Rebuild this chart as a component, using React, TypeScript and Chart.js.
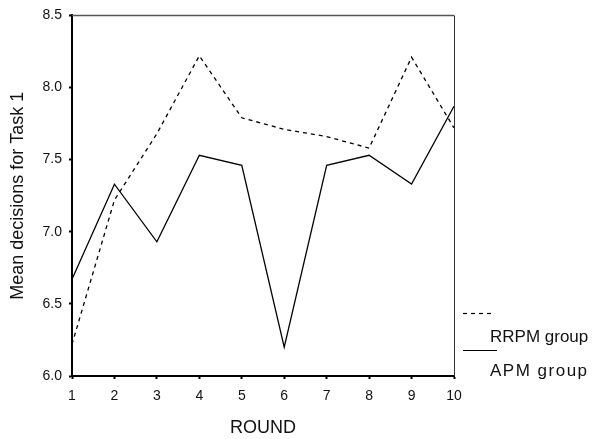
import React, { useEffect, useRef } from "react";
import { Chart, registerables } from "chart.js";

Chart.register(...registerables);

const rounds = ["1", "2", "3", "4", "5", "6", "7", "8", "9", "10"];
const rrpmGroup = [6.22, 7.22, 7.68, 8.22, 7.79, 7.71, 7.66, 7.58, 8.21, 7.72];
const apmGroup = [6.67, 7.33, 6.93, 7.53, 7.46, 6.2, 7.46, 7.53, 7.33, 7.87];
const yTicks = [6.0, 6.5, 7.0, 7.5, 8.0, 8.5];
const legendLabels = ["RRPM group", "APM group"];

const FONT = "'Liberation Sans', Arial, sans-serif";

const framePlugin = {
  id: "frameAndLegend",
  afterDraw(chart: any) {
    const { ctx, chartArea } = chart;
    const { left, right, top, bottom } = chartArea;
    ctx.save();
    // top border
    ctx.strokeStyle = "#555";
    ctx.lineWidth = 1.5;
    ctx.beginPath();
    ctx.moveTo(left, top);
    ctx.lineTo(right, top);
    ctx.stroke();
    // right border
    ctx.strokeStyle = "#333";
    ctx.lineWidth = 1;
    ctx.beginPath();
    ctx.moveTo(right + 0.5, top);
    ctx.lineTo(right + 0.5, bottom);
    ctx.stroke();
    // legend
    const lx0 = right + 9;
    const lx1 = right + 41;
    ctx.strokeStyle = "#000";
    ctx.lineWidth = 1.2;
    ctx.setLineDash([4, 4]);
    ctx.beginPath();
    ctx.moveTo(lx0, 313.5);
    ctx.lineTo(lx1, 313.5);
    ctx.stroke();
    ctx.setLineDash([]);
    ctx.beginPath();
    ctx.moveTo(lx0, 350.5);
    ctx.lineTo(lx1 + 2, 350.5);
    ctx.stroke();
    ctx.fillStyle = "#111";
    ctx.font = `17px ${FONT}`;
    ctx.textBaseline = "middle";
    ctx.textAlign = "left";
    ctx.fillText(legendLabels[0], right + 36, 337);
    (ctx as any).letterSpacing = "1.5px";
    ctx.fillText(legendLabels[1], right + 36, 371);
    (ctx as any).letterSpacing = "0px";
    ctx.restore();
  },
};

export default function App() {
  const canvasRef = useRef<HTMLCanvasElement>(null);

  useEffect(() => {
    document.body.style.margin = "0";
    const canvas = canvasRef.current;
    if (!canvas) return;
    const chart = new Chart(canvas, {
      type: "line",
      data: {
        labels: rounds,
        datasets: [
          {
            label: legendLabels[0],
            data: rrpmGroup,
            borderColor: "#000",
            borderWidth: 1.3,
            borderDash: [4, 4],
            pointRadius: 0,
            tension: 0,
            fill: false,
          },
          {
            label: legendLabels[1],
            data: apmGroup,
            borderColor: "#000",
            borderWidth: 1.3,
            pointRadius: 0,
            tension: 0,
            fill: false,
          },
        ],
      },
      options: {
        responsive: false,
        animation: false,
        devicePixelRatio: 1,
        layout: { padding: { top: 11, right: 146, left: 0, bottom: 0 } },
        plugins: { legend: { display: false }, tooltip: { enabled: false } },
        scales: {
          x: {
            type: "category",
            offset: false,
            grid: {
              drawOnChartArea: false,
              drawTicks: true,
              tickLength: 3,
              tickWidth: 2,
              tickColor: "#000",
            },
            border: { color: "#000", width: 2 },
            ticks: {
              color: "#111",
              font: { family: FONT, size: 14 },
              padding: 9,
              maxRotation: 0,
            },
            title: {
              display: true,
              text: "ROUND",
              color: "#111",
              font: { family: FONT, size: 18 },
              padding: { top: 0, bottom: 0 },
            },
            afterFit(scale: any) {
              scale.height = 63;
            },
          },
          y: {
            type: "linear",
            min: yTicks[0],
            max: yTicks[yTicks.length - 1],
            afterBuildTicks(scale: any) {
              scale.ticks = yTicks.map((v) => ({ value: v }));
            },
            grid: {
              drawOnChartArea: false,
              drawTicks: true,
              tickLength: 3,
              tickWidth: 2,
              tickColor: "#000",
            },
            border: { color: "#000", width: 2 },
            ticks: {
              color: "#111",
              font: { family: FONT, size: 14 },
              padding: 7,
              callback: (v: any) => Number(v).toFixed(1),
            },
            title: {
              display: true,
              text: "Mean decisions for Task 1",
              color: "#111",
              font: { family: FONT, size: 18 },
              padding: { top: 7, bottom: 0 },
            },
            afterFit(scale: any) {
              scale.width = 72;
            },
          },
        },
      },
      plugins: [framePlugin],
    });
    return () => chart.destroy();
  }, []);

  return (
    <div style={{ width: 600, height: 439 }}>
      <canvas ref={canvasRef} width={600} height={439} style={{ display: "block" }} />
    </div>
  );
}
